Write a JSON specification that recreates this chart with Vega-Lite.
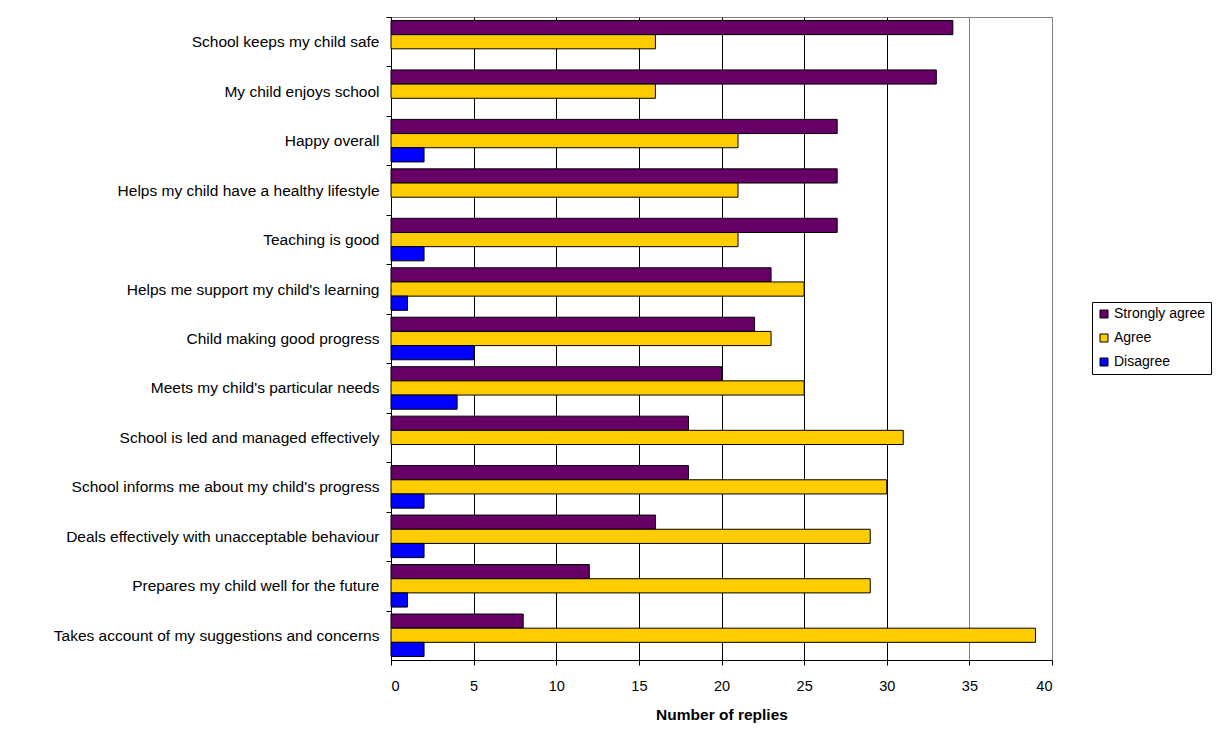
{
  "$schema": "https://vega.github.io/schema/vega-lite/v6.json",
  "autosize": {"type": "none"},
  "width": 661,
  "height": 643,
  "padding": {"left": 391, "top": 17, "right": 164, "bottom": 80},
  "background": "white",
  "config": {
    "font": "Liberation Sans",
    "view": {"stroke": "#808080", "strokeWidth": 1}
  },
  "data": {
    "values": [
      {"q": "School keeps my child safe", "r": "Strongly agree", "n": 34},
      {"q": "School keeps my child safe", "r": "Agree", "n": 16},
      {"q": "My child enjoys school", "r": "Strongly agree", "n": 33},
      {"q": "My child enjoys school", "r": "Agree", "n": 16},
      {"q": "Happy overall", "r": "Strongly agree", "n": 27},
      {"q": "Happy overall", "r": "Agree", "n": 21},
      {"q": "Happy overall", "r": "Disagree", "n": 2},
      {"q": "Helps my child have a healthy lifestyle", "r": "Strongly agree", "n": 27},
      {"q": "Helps my child have a healthy lifestyle", "r": "Agree", "n": 21},
      {"q": "Teaching is good", "r": "Strongly agree", "n": 27},
      {"q": "Teaching is good", "r": "Agree", "n": 21},
      {"q": "Teaching is good", "r": "Disagree", "n": 2},
      {"q": "Helps me support my child's learning", "r": "Strongly agree", "n": 23},
      {"q": "Helps me support my child's learning", "r": "Agree", "n": 25},
      {"q": "Helps me support my child's learning", "r": "Disagree", "n": 1},
      {"q": "Child making good progress", "r": "Strongly agree", "n": 22},
      {"q": "Child making good progress", "r": "Agree", "n": 23},
      {"q": "Child making good progress", "r": "Disagree", "n": 5},
      {"q": "Meets my child's particular needs", "r": "Strongly agree", "n": 20},
      {"q": "Meets my child's particular needs", "r": "Agree", "n": 25},
      {"q": "Meets my child's particular needs", "r": "Disagree", "n": 4},
      {"q": "School is led and managed effectively", "r": "Strongly agree", "n": 18},
      {"q": "School is led and managed effectively", "r": "Agree", "n": 31},
      {"q": "School informs me about my child's progress", "r": "Strongly agree", "n": 18},
      {"q": "School informs me about my child's progress", "r": "Agree", "n": 30},
      {"q": "School informs me about my child's progress", "r": "Disagree", "n": 2},
      {"q": "Deals effectively with unacceptable behaviour", "r": "Strongly agree", "n": 16},
      {"q": "Deals effectively with unacceptable behaviour", "r": "Agree", "n": 29},
      {"q": "Deals effectively with unacceptable behaviour", "r": "Disagree", "n": 2},
      {"q": "Prepares my child well for the future", "r": "Strongly agree", "n": 12},
      {"q": "Prepares my child well for the future", "r": "Agree", "n": 29},
      {"q": "Prepares my child well for the future", "r": "Disagree", "n": 1},
      {"q": "Takes account of my suggestions and concerns", "r": "Strongly agree", "n": 8},
      {"q": "Takes account of my suggestions and concerns", "r": "Agree", "n": 39},
      {"q": "Takes account of my suggestions and concerns", "r": "Disagree", "n": 2}
    ]
  },
  "mark": {"type": "bar", "stroke": "#000000", "strokeWidth": 1, "opacity": 1},
  "encoding": {
    "y": {
      "field": "q",
      "type": "nominal",
      "sort": [
        "School keeps my child safe",
        "My child enjoys school",
        "Happy overall",
        "Helps my child have a healthy lifestyle",
        "Teaching is good",
        "Helps me support my child's learning",
        "Child making good progress",
        "Meets my child's particular needs",
        "School is led and managed effectively",
        "School informs me about my child's progress",
        "Deals effectively with unacceptable behaviour",
        "Prepares my child well for the future",
        "Takes account of my suggestions and concerns"
      ],
      "scale": {"paddingInner": 0.14, "paddingOuter": 0.07},
      "axis": {
        "title": null,
        "labelFontSize": 15.5,
        "labelColor": "#000",
        "labelPadding": 7,
        "labelLimit": 400,
        "tickSize": 5,
        "tickColor": "#000",
        "domainColor": "#000",
        "tickOffset": -24.73,
        "labelOffset": 24.73,
        "grid": false
      }
    },
    "yOffset": {
      "field": "r",
      "type": "nominal",
      "sort": ["Strongly agree", "Agree", "Disagree"],
      "scale": {"paddingInner": 0, "paddingOuter": 0}
    },
    "x": {
      "field": "n",
      "type": "quantitative",
      "scale": {"domain": [0, 40], "nice": false},
      "axis": {
        "title": "Number of replies",
        "titleFontSize": 15.5,
        "titleFontWeight": "bold",
        "titleColor": "#000",
        "titlePadding": 15,
        "values": [0, 5, 10, 15, 20, 25, 30, 35, 40],
        "labelFontSize": 14.5,
        "labelColor": "#000",
        "labelPadding": 14,
        "tickSize": 5,
        "tickColor": "#000",
        "domainColor": "#000",
        "grid": true,
        "gridColor": {"condition": {"test": "datum.value >= 35", "value": "#808080"}, "value": "#000000"},
        "gridOpacity": 1
      }
    },
    "color": {
      "field": "r",
      "type": "nominal",
      "scale": {
        "domain": ["Strongly agree", "Agree", "Disagree"],
        "range": ["#660066", "#FFCC00", "#0000FF"]
      },
      "legend": {
        "title": null,
        "orient": "none",
        "legendX": 701,
        "legendY": 285,
        "strokeColor": "#000",
        "fillColor": "#fff",
        "padding": 5,
        "symbolType": "square",
        "symbolSize": 64,
        "symbolStrokeColor": "#000",
        "symbolStrokeWidth": 1,
        "symbolOpacity": 1,
        "labelFontSize": 14,
        "labelColor": "#000",
        "labelOffset": 3,
        "rowPadding": 10
      }
    }
  }
}
